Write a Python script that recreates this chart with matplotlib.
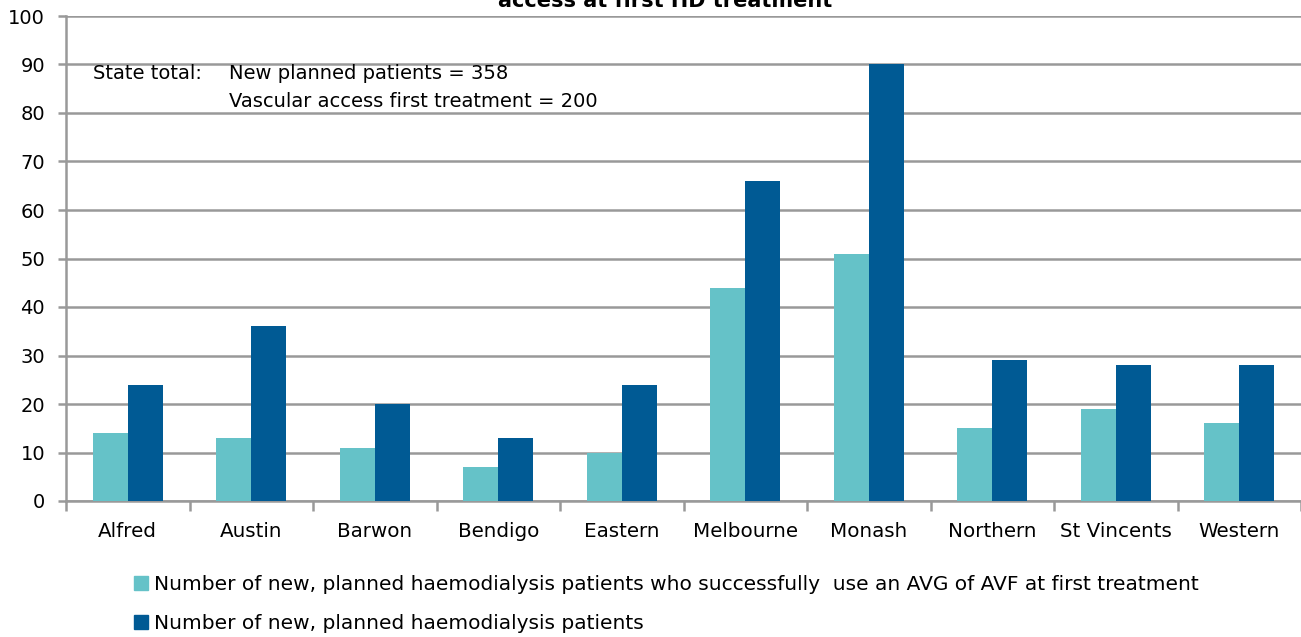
import matplotlib.pyplot as plt
import numpy as np
from matplotlib.patches import Patch

plt.rcParams['font.family'] = ['DejaVu Sans']

hospitals = ["Alfred", "Austin", "Barwon", "Bendigo", "Eastern", "Melbourne",
             "Monash", "Northern", "St Vincents", "Western"]
avf_first = [14, 13, 11, 7, 10, 44, 51, 15, 19, 16]
new_planned = [24, 36, 20, 13, 24, 66, 90, 29, 28, 28]

light = '#65c2c8'
dark = '#005a94'
grid_col = '#999999'

fig = plt.figure(figsize=(13.01, 6.37), dpi=100)
ax = fig.add_axes([66 / 1301, 1 - 501 / 637, (1301 - 66) / 1301, (501 - 16) / 637])

x = np.arange(len(hospitals))
w = 0.285
ax.bar(x - w / 2, avf_first, w, color=light, zorder=3)
ax.bar(x + w / 2, new_planned, w, color=dark, zorder=3)

ax.set_xlim(-0.5, len(hospitals) - 0.5)
ax.set_ylim(0, 100)
ax.set_yticks(range(0, 101, 10))
ax.yaxis.grid(True, color=grid_col, linewidth=1.8, zorder=0)
ax.set_xticks(x)
ax.set_xticklabels(hospitals)
ax.set_xticks(np.arange(-0.5, len(hospitals)), minor=True)
ax.tick_params(axis='x', which='major', length=0, pad=15, labelsize=14.3)
ax.tick_params(axis='x', which='minor', length=7, width=1.8, color=grid_col)
ax.tick_params(axis='y', length=6, width=1.8, color=grid_col, labelsize=14, pad=9)

for s in ['top', 'right']:
    ax.spines[s].set_visible(False)
for s in ['left', 'bottom']:
    ax.spines[s].set_color(grid_col)
    ax.spines[s].set_linewidth(1.8)

ax.text(-0.28, 88.2, "State total:", fontsize=14, va='center')
ax.text(0.82, 88.2, "New planned patients = 358", fontsize=14, va='center')
ax.text(0.82, 82.4, "Vascular access first treatment = 200", fontsize=14, va='center')

fig.text(665 / 1301, 1 - 1 / 637, "access at first HD treatment", fontsize=15,
         fontweight='bold', ha='center', va='center')

handles = [Patch(color=light), Patch(color=dark)]
labels = ["Number of new, planned haemodialysis patients who successfully  use an AVG of AVF at first treatment",
          "Number of new, planned haemodialysis patients"]
fig.legend(handles, labels, loc='upper left', bbox_to_anchor=(126 / 1301, 1 - 567 / 637),
           frameon=False, fontsize=14.5, handlelength=0.7, handleheight=0.7,
           handletextpad=0.3, labelspacing=1.0, borderaxespad=0)

fig.savefig('out.png', dpi=100)
